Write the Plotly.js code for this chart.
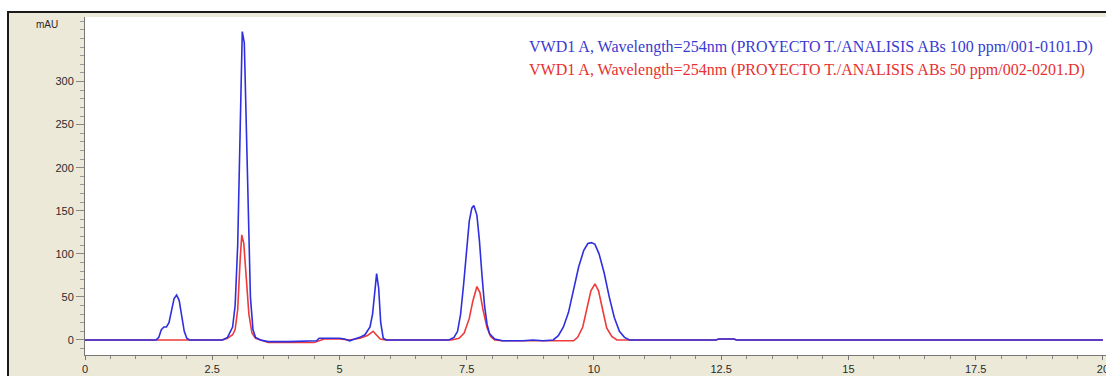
<!DOCTYPE html>
<html>
<head>
<meta charset="utf-8">
<script src="https://cdn.plot.ly/plotly-3.0.1.min.js"></script>
<style>
html,body{margin:0;padding:0;background:#ffffff;width:1106px;height:376px;overflow:hidden;}
#wrap{position:absolute;left:7px;top:11px;width:1099px;height:365px;border-top:2px solid #1a1a1a;border-left:2px solid #1a1a1a;background:#ECE9D8;}
#chart{position:absolute;left:0;top:0;width:1099px;height:365px;}
</style>
</head>
<body>
<div id="wrap"><div id="chart"></div></div>
<script>
// Retention time (min) and absorbance (mAU)
const blueName = "VWD1 A, Wavelength=254nm (PROYECTO T./ANALISIS ABs 100 ppm/001-0101.D)";
const redName  = "VWD1 A, Wavelength=254nm (PROYECTO T./ANALISIS ABs 50 ppm/002-0201.D)";

const blueTime = [0,1.40,1.45,1.50,1.55,1.60,1.65,1.70,1.75,1.80,1.85,1.90,1.95,2.00,2.05,
  2.70,2.80,2.90,2.95,3.00,3.05,3.09,3.13,3.17,3.20,3.25,3.30,3.35,3.45,3.60,4.00,4.55,4.60,5.00,5.10,5.20,5.30,5.40,5.50,5.60,5.65,5.70,5.73,5.77,5.81,5.86,5.92,
  7.15,7.25,7.32,7.38,7.44,7.50,7.55,7.60,7.64,7.70,7.75,7.80,7.85,7.90,7.95,8.05,8.20,8.60,8.80,9.00,9.20,
  9.30,9.40,9.50,9.60,9.70,9.80,9.88,9.95,10.02,10.10,10.20,10.30,10.40,10.50,10.60,10.70,
  12.40,12.45,12.75,12.80,20];
const blueAbs  = [0,0,3,12,15,15,20,35,48,52,46,28,10,2,0,
  0,3,15,40,110,250,358,345,250,150,50,12,3,0,-2,-2,-1,2,2,1,-1,1,3,6,15,30,60,77,60,20,2,0,
  0,3,10,30,65,105,138,153,156,145,115,75,40,18,7,1,-1,-1,0,-1,0,
  5,15,32,58,85,104,112,113,111,100,78,50,26,10,3,0,
  0,1,1,0,0];

const redTime = [0,2.70,2.80,2.90,2.95,3.00,3.05,3.08,3.12,3.17,3.22,3.28,3.35,3.45,3.60,4.50,4.60,4.70,5.00,5.20,5.40,5.55,5.66,5.72,5.80,5.90,
  7.20,7.35,7.45,7.55,7.62,7.70,7.76,7.82,7.90,7.97,8.05,8.20,8.60,9.00,9.60,
  9.68,9.78,9.86,9.94,10.02,10.09,10.16,10.25,10.35,10.45,
  12.40,12.45,12.75,12.80,20];
const redAbs  = [0,0,2,6,12,35,95,122,112,70,30,8,2,0,-3,-3,-1,1,1,0,2,5,10,6,1,0,
  0,2,8,25,45,62,55,35,14,4,0,-1,-1,-1,-1,
  3,15,36,57,65,57,38,14,4,0,
  0,1,1,0,0];

const xTicks = [0,2.5,5,7.5,10,12.5,15,17.5,20];
const xTickText = ["0","2.5","5","7.5","10","12.5","15","17.5","20"];
const yTicks = [0,50,100,150,200,250,300];

const traces = [
  {x: redTime, y: redAbs, type: "scatter", mode: "lines", name: redName,
   line: {color: "#ee3a3a", width: 1.6}, showlegend: false},
  {x: blueTime, y: blueAbs, type: "scatter", mode: "lines", name: blueName,
   line: {color: "#2f2fe0", width: 1.6}, showlegend: false}
];

const layout = {
  width: 1099, height: 365,
  margin: {l: 76, r: 0, t: 4, b: 23, pad: 0},
  paper_bgcolor: "rgba(0,0,0,0)",
  plot_bgcolor: "#ffffff",
  font: {family: "Liberation Sans, Arial, sans-serif", size: 11, color: "#2a2a2a"},
  xaxis: {
    range: [0, 20.1], tickmode: "array", tickvals: xTicks, ticktext: xTickText,
    showgrid: false, zeroline: false, showline: true, linecolor: "#777777", linewidth: 1,
    ticks: "outside", ticklen: 4, tickcolor: "#777777", ticklabeloverflow: "allow",
    minor: {dtick: 0.5, ticks: "outside", ticklen: 3, tickcolor: "#888888", showgrid: false},
    tickfont: {size: 11, color: "#2a2a2a"}
  },
  yaxis: {
    range: [-17.5, 375], tickmode: "array", tickvals: yTicks,
    showgrid: false, zeroline: false, showline: true, linecolor: "#777777", linewidth: 1,
    ticks: "outside", ticklen: 8, tickcolor: "#888888",
    minor: {dtick: 10, ticks: "outside", ticklen: 4, tickcolor: "#999999", showgrid: false},
    tickfont: {size: 11, color: "#2a2a2a"}
  },
  annotations: [
    {xref: "paper", yref: "paper", x: -0.037, y: 0.979, text: "mAU", showarrow: false,
     font: {size: 10, color: "#2a2a2a"}, xanchor: "center", yanchor: "middle"},
    {xref: "paper", yref: "paper", x: 0.432, y: 0.911, text: blueName, showarrow: false,
     font: {family: "Liberation Serif, Times New Roman, serif", size: 16, color: "#3a3ad0"}, xanchor: "left", yanchor: "middle"},
    {xref: "paper", yref: "paper", x: 0.432, y: 0.842, text: redName, showarrow: false,
     font: {family: "Liberation Serif, Times New Roman, serif", size: 16, color: "#e83030"}, xanchor: "left", yanchor: "middle"}
  ]
};

Plotly.newPlot("chart", traces, layout, {displayModeBar: false, staticPlot: true});
</script>
</body>
</html>
